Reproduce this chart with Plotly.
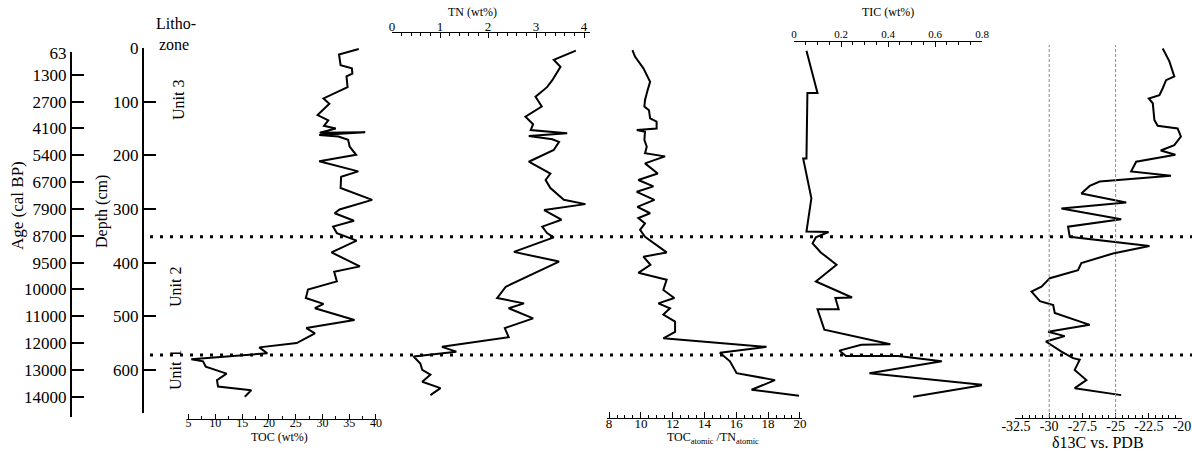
import plotly.graph_objects as go

W, H = 1192, 452
FONT = "Liberation Serif, Times New Roman, serif"

# ---------------- data (depth in cm) ----------------
toc_depth = [2, 12, 32, 38, 48, 53, 73, 94, 104, 125, 135, 145, 150, 158, 157, 162, 165, 171, 184, 199,
             211, 230, 240, 261, 283, 301, 308, 322, 333, 345, 359, 381, 407, 417, 435, 450, 466, 477, 485, 507,
             522, 532, 550, 558, 569, 580, 584, 594, 607, 619, 631, 638, 650]
toc_vals = [36.8, 33.1, 33.4, 35.5, 35.6, 34.5, 34.7, 30.2, 31.3, 29.1, 31.1, 30.3, 32.5, 29.5, 38.0, 29.4, 33.0, 34.8, 35.1, 36.3,
            29.4, 36.7, 33.5, 33.4, 39.3, 33.2, 32.3, 35.9, 32.0, 32.7, 36.4, 31.7, 37.0, 32.2, 32.7, 27.3, 26.9, 30.2, 28.6, 36.0,
            27.0, 28.6, 25.2, 18.2, 19.7, 5.5, 7.7, 8.2, 12.1, 10.3, 10.5, 16.7, 15.5]

tn_depth = [5, 22, 35, 60, 73, 91, 109, 128, 142, 153, 159, 164, 170, 175, 190, 212, 234, 246, 261, 283,
            291, 302, 320, 333, 345, 353, 380, 398, 445, 466, 476, 485, 504, 522, 539, 557, 566, 575, 588, 600,
            609, 622, 634, 647]
tn_vals = [3.83, 3.37, 3.51, 3.34, 3.23, 2.99, 3.12, 2.78, 2.94, 2.89, 3.65, 2.85, 3.34, 3.48, 3.37, 2.85, 3.30, 3.20, 3.30, 3.58,
           4.03, 3.17, 3.53, 3.13, 3.23, 3.37, 2.54, 3.48, 2.37, 2.19, 2.75, 2.43, 2.94, 2.35, 2.43, 1.04, 1.34, 0.45, 0.59, 0.63,
           0.80, 0.63, 1.01, 0.80]

cn_depth = [4, 16, 38, 63, 78, 97, 109, 116, 131, 137, 150, 153, 156, 171, 184, 196, 202, 215, 234, 246,
            258, 268, 283, 296, 308, 317, 327, 339, 352, 381, 389, 404, 419, 432, 451, 466, 476, 485, 497, 510,
            529, 541, 557, 568, 584, 606, 619, 637, 648]
cn_vals = [9.47, 9.63, 10.16, 10.58, 10.43, 10.26, 10.22, 10.51, 10.58, 10.99, 10.99, 9.74, 10.26, 10.22, 10.37, 10.26, 11.52, 10.26, 11.06, 9.84,
           10.79, 9.74, 10.85, 9.78, 10.58, 9.84, 10.26, 9.95, 10.26, 11.62, 10.16, 10.6, 9.84, 11.62, 11.41, 12.10, 11.10, 11.83, 11.41, 12.15,
           12.15, 11.41, 17.9, 14.97, 15.6, 16.02, 18.43, 16.96, 19.94]

tic_depth = [5, 84, 84, 206, 206, 280, 342, 343, 353, 364, 381, 404, 435, 465, 466, 487, 487, 525, 552, 553,
             564, 574, 574, 584, 606, 628, 650]
tic_vals = [0.053, 0.10, 0.057, 0.053, 0.039, 0.074, 0.053, 0.147, 0.093, 0.079, 0.114, 0.181, 0.093, 0.247, 0.176, 0.19, 0.10, 0.129, 0.41, 0.286,
            0.193, 0.221, 0.443, 0.629, 0.321, 0.81, 0.507]

d13_depth = [1, 10, 25, 53, 60, 75, 88, 94, 103, 134, 145, 150, 165, 181, 191, 199, 212, 230, 238, 249,
             257, 271, 288, 299, 319, 333, 352, 369, 383, 401, 414, 429, 445, 454, 472, 479, 494, 516, 529, 537,
             547, 566, 578, 581, 600, 619, 634, 647]
d13_vals = [-21.45, -21.25, -20.95, -20.58, -21.2, -21.45, -21.7, -22.5, -22.2, -22.08, -21.83, -20.33, -20.08, -20.58, -21.6, -20.5, -23.45, -23.83, -20.83, -26.2,
            -26.95, -27.58, -24.2, -29.08, -24.58, -28.58, -28.45, -22.45, -25.2, -27.58, -27.83, -29.95, -30.58, -31.33, -30.7, -29.7, -29.58, -26.95, -30.08, -28.83,
            -30.25, -29.08, -28.2, -27.7, -28.08, -27.2, -28.08, -24.58]

depth_ticks = [0, 100, 200, 300, 400, 500, 600]
age_labels = ["63", "1300", "2700", "4100", "5400", "6700", "7900", "8700", "9500",
              "10000", "11000", "12000", "13000", "14000"]
age_tick_depth = [9, 50, 100, 150, 200, 250, 300, 350, 400, 450, 500, 550, 600, 650]
zone_boundaries = [352, 572]
d13_ref_lines = [-30, -25]
d13_ticks = [-32.5, -30, -27.5, -25, -22.5, -20]
d13_ticktext = ["-32.5", "-30", "-27.5", "-25", "-22.5", "-20"]
tic_ticks = [0, 0.2, 0.4, 0.6, 0.8]
tic_ticktext = ["0", "0.2", "0.4", "0.6", "0.8"]
unit_labels = ["Unit 3", "Unit 2", "Unit 1"]


def px(x):
    return x / W


def py(y):
    return 1 - y / H


fig = go.Figure()
line = dict(color="black", width=2)
fig.add_trace(go.Scatter(x=toc_vals, y=toc_depth, mode="lines", line=line, xaxis="x", yaxis="y"))
fig.add_trace(go.Scatter(x=tn_vals, y=tn_depth, mode="lines", line=line, xaxis="x2", yaxis="y"))
fig.add_trace(go.Scatter(x=cn_vals, y=cn_depth, mode="lines", line=line, xaxis="x3", yaxis="y"))
fig.add_trace(go.Scatter(x=tic_vals, y=tic_depth, mode="lines", line=line, xaxis="x4", yaxis="y"))
fig.add_trace(go.Scatter(x=d13_vals, y=d13_depth, mode="lines", line=line, xaxis="x5", yaxis="y"))
# empty trace so the age axis gets its own subplot
fig.add_trace(go.Scatter(x=[None], y=[None], xaxis="x", yaxis="y2"))

tf = lambda s: dict(family=FONT, size=s, color="black")

common_x = dict(showgrid=False, zeroline=False, showline=True, linecolor="black", linewidth=1,
                ticks="inside", tickcolor="black", tickwidth=1, anchor="free", fixedrange=True,
                automargin=False, ticklabeloverflow="allow")

fig.update_layout(
    width=W, height=H, margin=dict(l=0, r=0, t=0, b=0, pad=0, autoexpand=False),
    paper_bgcolor="white", plot_bgcolor="rgba(0,0,0,0)", showlegend=False,
    font=dict(family=FONT, color="black"),
    yaxis=dict(domain=[py(413), py(48)], range=[680.3, 0], anchor="free", position=px(143),
               showgrid=False, zeroline=False, showline=True, linecolor="black", linewidth=2,
               ticks="inside", ticklen=12, tickwidth=2, tickcolor="black", automargin=False,
               tickvals=depth_ticks, tickfont=tf(17), fixedrange=True),
    yaxis2=dict(domain=[py(417), py(52)], range=[687.8, 7.46], anchor="free", position=px(71),
                showgrid=False, zeroline=False, showline=True, linecolor="black", linewidth=2,
                ticks="inside", ticklen=12, tickwidth=2, tickcolor="black", automargin=False,
                tickvals=age_tick_depth, ticktext=age_labels, tickfont=tf(17), fixedrange=True),
    xaxis=dict(domain=[px(187), px(377)], range=[4.7, 40.2], position=py(419), side="bottom",
               tickvals=[5, 10, 15, 20, 25, 30, 35, 40], ticklen=5, tickfont=tf(12), ticklabelstandoff=-7,
               minor=dict(ticks="inside", dtick=2.5, tick0=5, ticklen=3, tickcolor="black"), **common_x),
    xaxis2=dict(domain=[px(392), px(590)], range=[0, 4.125], position=py(32), side="top",
                tickvals=[0, 1, 2, 3, 4], ticklen=5, tickfont=tf(13), ticklabelstandoff=-4,
                minor=dict(ticks="inside", dtick=0.2, tick0=0, ticklen=3, tickcolor="black"), **common_x),
    xaxis3=dict(domain=[px(607), px(802)], range=[7.87, 20.13], position=py(418), side="bottom",
                tickvals=[8, 10, 12, 14, 16, 18, 20], ticklen=6, tickfont=tf(13), ticklabelstandoff=-7,
                minor=dict(ticks="inside", dtick=0.5, tick0=8, ticklen=3, tickcolor="black"), **common_x),
    xaxis4=dict(domain=[px(794), px(982)], range=[0, 0.8], position=py(41), side="top",
                tickvals=tic_ticks, ticktext=tic_ticktext, ticklen=5, tickfont=tf(11), ticklabelstandoff=-1,
                minor=dict(ticks="inside", dtick=0.5 / 10, tick0=0, ticklen=3, tickcolor="black"), **common_x),
    xaxis5=dict(domain=[px(1015), px(1182)], range=[-32.575, -20], position=py(418), side="bottom",
                tickvals=d13_ticks, ticktext=d13_ticktext, ticklen=5, tickfont=tf(14), ticklabelstandoff=-5,
                minor=dict(ticks="inside", dtick=0.5, tick0=-32.5, ticklen=3, tickcolor="black"), **common_x),
)

# zone boundary dotted lines
for d in zone_boundaries:
    fig.add_shape(type="line", xref="paper", yref="y", x0=px(150), x1=1.0, y0=d, y1=d,
                  line=dict(color="black", width=3, dash="3px,7px"))

# reference lines in the d13C panel
for v in d13_ref_lines:
    fig.add_shape(type="line", xref="x5", yref="paper", x0=v, x1=v, y0=py(417), y1=py(45),
                  line=dict(color="#8c8c8c", width=1, dash="3px,2px"))

ann = []
def A(text, x, y, size, angle=0, xanchor="center"):
    ann.append(dict(text=text, x=px(x), y=py(y), xref="paper", yref="paper", showarrow=False,
                    textangle=angle, xanchor=xanchor, yanchor="middle", font=tf(size)))

A("TOC (wt%)", 279, 437, 12)
A("TN (wt%)", 472, 12, 12)
A("TOC<sub>atomic</sub> /TN<sub>atomic</sub>", 713, 438, 12)
A("TIC (wt%)", 888, 12, 12)
A("δ13C vs. PDB", 1098, 442, 16)
A("Age (cal BP)", 18, 206, 17, -90)
A("Depth (cm)", 102, 212, 16, -90)
A("Litho-", 154, 24, 16, xanchor="left")
A("zone", 157, 45, 16, xanchor="left")
A(unit_labels[0], 178, 100, 16, -90)
A(unit_labels[1], 175, 287, 16, -90)
A(unit_labels[2], 175, 370, 16, -90)
fig.update_layout(annotations=ann)

fig.write_html("out.html", config={"displayModeBar": False},
               post_script="document.body.style.margin='0';document.documentElement.style.overflow='hidden';")
